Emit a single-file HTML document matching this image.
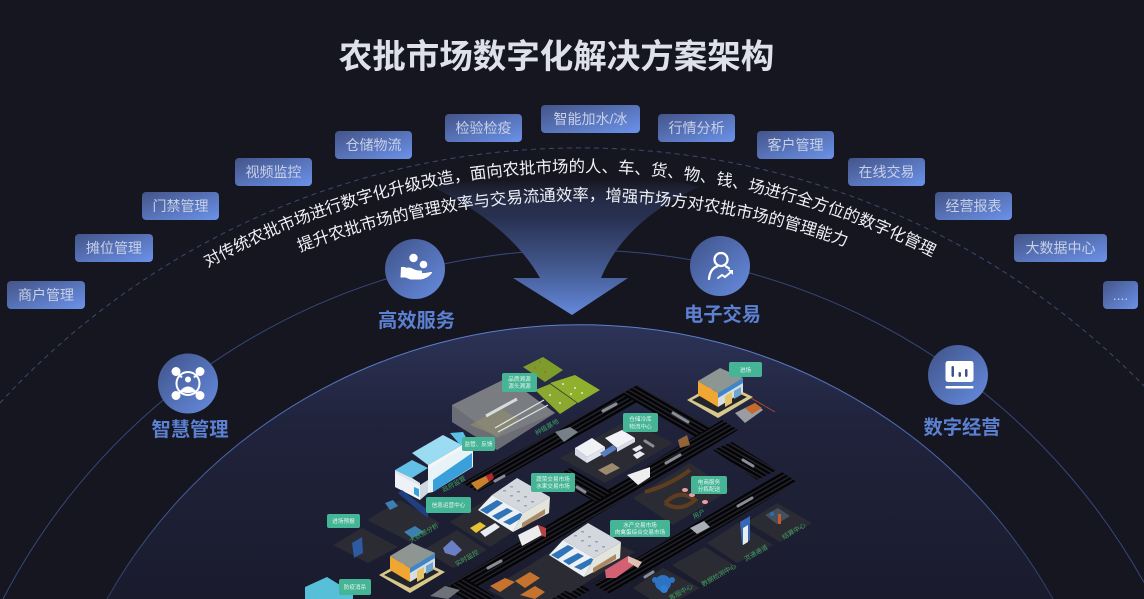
<!DOCTYPE html>
<html lang="zh">
<head>
<meta charset="utf-8">
<title>农批市场数字化解决方案架构</title>
<style>
html,body{margin:0;padding:0;background:#161620;width:1144px;height:599px;overflow:hidden}
svg{display:block}
text{font-family:"Liberation Sans","Noto Sans CJK SC",sans-serif}
.t{font-size:14px;fill:#c8d0e6;text-anchor:middle}
.f{font-size:19.300px;font-weight:700;fill:#5c80d2;text-anchor:middle}
.c{font-size:5.600px;fill:#e6f5ef;text-anchor:middle}
.g{font-size:6.500px;fill:#3f9f63;text-anchor:middle}
.arc{font-size:16.400px;fill:#eef0f6}
</style>
</head>
<body>
<svg width="1144" height="599" viewBox="0 0 1144 599" xmlns="http://www.w3.org/2000/svg">
<defs>
<linearGradient id="lb" x1="0" y1="0" x2="1" y2="1"><stop offset="0" stop-color="#445488"/><stop offset="1" stop-color="#6b92ea"/></linearGradient>
<linearGradient id="cb" x1="0" y1="0" x2="1" y2="1"><stop offset="0" stop-color="#3f5288"/><stop offset="1" stop-color="#668ce0"/></linearGradient>
<linearGradient id="ar" x1="0" y1="180" x2="0" y2="315" gradientUnits="userSpaceOnUse"><stop offset="0" stop-color="#3a4a7a" stop-opacity="0"/><stop offset=".27" stop-color="#283050"/><stop offset=".65" stop-color="#43598f"/><stop offset="1" stop-color="#6489dc"/></linearGradient>
<linearGradient id="dome" x1="0" y1="324" x2="0" y2="599" gradientUnits="userSpaceOnUse"><stop offset="0" stop-color="#2d3458"/><stop offset=".35" stop-color="#20233c"/><stop offset="1" stop-color="#1a1b2d"/></linearGradient>
<linearGradient id="edge" x1="0" y1="324" x2="0" y2="599" gradientUnits="userSpaceOnUse"><stop offset="0" stop-color="#5d80d0"/><stop offset=".5" stop-color="#4664aa"/><stop offset="1" stop-color="#2e3c66"/></linearGradient>
<pattern id="sa" width="6" height="4" patternUnits="userSpaceOnUse" patternTransform="rotate(30)"><rect width="6" height="2.800" fill="#050507"/><rect y="2.800" width="6" height="1.200" fill="#26262f"/></pattern>
<pattern id="sb" width="6" height="4" patternUnits="userSpaceOnUse" patternTransform="rotate(-30)"><rect width="6" height="2.800" fill="#050507"/><rect y="2.800" width="6" height="1.200" fill="#26262f"/></pattern>
<path id="p1" d="M80 355.500 A773 773 0 0 1 1080 355.500"/>
<path id="p2" d="M130 341.200 A790 790 0 0 1 1030 341.200"/>
<g id="store">
<polygon points="687,400 720,381 753,397 718,418" fill="#d7c98c"/>
<polygon points="692,400 720,385 747,397 718,413" fill="#24242b"/>
<polygon points="698,381 718,393 718,407 698,395" fill="#f0a632"/>
<polygon points="718,393 743,378 743,392 718,407" fill="#d7dde2"/>
<polygon points="718,393 743,378 743,383 718,398" fill="#3f86c8"/>
<polygon points="698,381 720,368 743,378 718,393" fill="#8d9692"/>
<polygon points="725,396 732,392 732,403 725,407" fill="#e3c467"/>
<polygon points="734,391 741,387 741,395 734,399" fill="#6ea5d0"/>
</g>
<g id="market">
<polygon points="478,510 492,495 523,513 513,532" fill="#eef1f4"/>
<polygon points="480,510 497,500 503,503 487,514" fill="#2f73b8"/>
<polygon points="492,516 507,508 513,511 498,520" fill="#2f73b8"/>
<polygon points="503,522 520,513 525,516 510,525" fill="#2f73b8"/>
<polygon points="513,532 549,513 550,497 523,513" fill="#e3e4dc"/>
<polygon points="522,523 545,509 545,514 522,528" fill="#a98862"/>
<polygon points="492,495 517,478 550,497 523,513" fill="#d4d8de"/>
<g fill="#9da3ac"><rect x="503" y="490" width="3" height="1.500"/><rect x="510" y="486" width="3" height="1.500"/><rect x="510" y="495" width="3" height="1.500"/><rect x="517" y="491" width="3" height="1.500"/><rect x="517" y="500" width="3" height="1.500"/><rect x="524" y="496" width="3" height="1.500"/><rect x="524" y="505" width="3" height="1.500"/><rect x="531" y="501" width="3" height="1.500"/></g>
</g>
</defs>

<rect width="1144" height="599" fill="#161620"/>

<path d="M0 403 A787 787 0 0 1 1144 386" fill="none" stroke="#3a4a72" stroke-width="1" stroke-dasharray="5 4"/>
<path d="M3 599 A648 648 0 0 1 1144 582.500" fill="none" stroke="#37477a" stroke-width="1"/>

<path d="M433 187 Q510 225 540 278 L513 278 L572 315 L628 278 L601 278 Q625 220 699 187 Q570 150 433 187Z" fill="url(#ar)"/>

<path d="M107 599 A540 530 0 0 1 1053 599Z" fill="url(#dome)"/>
<path d="M107 599 A540 530 0 0 1 1053 599" fill="none" stroke="url(#edge)" stroke-width="1"/>

<text x="556.500" y="68" text-anchor="middle" style="font-size:33.500px;font-weight:700;fill:#dfe1ea">农批市场数字化解决方案架构</text>

<g>
<rect x="7" y="281" width="78" height="28" rx="4" fill="url(#lb)"/><text class="t" x="46" y="300">商户管理</text>
<rect x="75" y="234" width="78" height="28" rx="4" fill="url(#lb)"/><text class="t" x="114" y="253">摊位管理</text>
<rect x="142" y="192" width="77" height="28" rx="4" fill="url(#lb)"/><text class="t" x="180.500" y="211">门禁管理</text>
<rect x="235" y="158" width="77" height="28" rx="4" fill="url(#lb)"/><text class="t" x="273.500" y="177">视频监控</text>
<rect x="335" y="131" width="77" height="28" rx="4" fill="url(#lb)"/><text class="t" x="373.500" y="150">仓储物流</text>
<rect x="445" y="114" width="77" height="28" rx="4" fill="url(#lb)"/><text class="t" x="483.500" y="133">检验检疫</text>
<rect x="541" y="105" width="99" height="28" rx="4" fill="url(#lb)"/><text class="t" x="590.500" y="124">智能加水/冰</text>
<rect x="658" y="114" width="77" height="28" rx="4" fill="url(#lb)"/><text class="t" x="696.500" y="133">行情分析</text>
<rect x="757" y="131" width="77" height="28" rx="4" fill="url(#lb)"/><text class="t" x="795.500" y="150">客户管理</text>
<rect x="848" y="158" width="77" height="28" rx="4" fill="url(#lb)"/><text class="t" x="886.500" y="177">在线交易</text>
<rect x="935" y="192" width="77" height="28" rx="4" fill="url(#lb)"/><text class="t" x="973.500" y="211">经营报表</text>
<rect x="1014" y="234" width="93" height="28" rx="4" fill="url(#lb)"/><text class="t" x="1060.500" y="253">大数据中心</text>
<rect x="1103" y="281" width="35" height="28" rx="4" fill="url(#lb)"/><text class="t" x="1120.500" y="300">....</text>
</g>

<text class="arc" text-anchor="middle"><textPath href="#p1" startOffset="48.950%">对传统农批市场进行数字化升级改造，面向农批市场的人、车、货、物、钱、场进行全方位的数字化管理</textPath></text>
<text class="arc" text-anchor="middle"><textPath href="#p2" startOffset="49.200%">提升农批市场的管理效率与交易流通效率，增强市场方对农批市场的管理能力</textPath></text>

<circle cx="415" cy="269" r="30" fill="url(#cb)"/>
<g fill="#fff">
<circle cx="413.500" cy="258" r="4.200"/><circle cx="423.500" cy="264.500" r="3.800"/>
<path d="M401 267h4.500v1q4-1.500 8 1q3 1.500 5 1.500h2q2 0 1.500 2.500h3l6-1q2 0 .5 1.500q-4 5-11 6h-10l-5-2h-5z"/>
</g>
<circle cx="720" cy="266" r="30" fill="url(#cb)"/>
<g fill="none" stroke="#fff" stroke-linecap="round">
<circle cx="721" cy="259.500" r="6.500" stroke-width="2.300"/>
<path d="M709 279q1-10 8-12.500M726 266.500q2 1 3 2" stroke-width="2.300"/>
<path d="M718 278l4-3 3 2 6-5" stroke-width="2"/>
</g>
<path d="M728 270h5v5z" fill="#fff"/>
<circle cx="188" cy="383.500" r="30" fill="url(#cb)"/>
<g fill="#fff" stroke="#fff">
<circle cx="188" cy="383.500" r="11.500" fill="none" stroke-width="2"/>
<circle cx="176" cy="371.500" r="4"/><circle cx="200" cy="371.500" r="4"/><circle cx="176" cy="395.500" r="4"/><circle cx="200" cy="395.500" r="4"/>
<path d="M176 371.500l6 6M200 371.500l-6 6M176 395.500l7-5M200 395.500l-7-5" stroke-width="2"/>
<circle cx="188" cy="379.500" r="3" stroke="none"/><path d="M180 391q8-9 16 0q-8 4-16 0z" stroke="none"/>
</g>
<circle cx="958" cy="375" r="30" fill="url(#cb)"/>
<rect x="945.500" y="361" width="28" height="21" rx="2.500" fill="#fff"/>
<rect x="945.500" y="386" width="28" height="2.500" rx="1" fill="#fff"/>
<g fill="#3d5190"><rect x="951.500" y="366" width="2.500" height="11" rx="1.200"/><rect x="958.500" y="372" width="2.500" height="5" rx="1.200"/><rect x="965" y="369" width="2.500" height="8" rx="1.200"/></g>

<text class="f" x="416.500" y="327">高效服务</text>
<text class="f" x="722.500" y="321">电子交易</text>
<text class="f" x="190" y="436">智慧管理</text>
<text class="f" x="962" y="434">数字经营</text>

<!-- roads -->
<g>
<polygon points="637,385 652,394 478,492 462,483" fill="url(#sb)"/>
<polygon points="637,385 712,428 695,437 622,394" fill="url(#sa)"/>
<polygon points="722,420 738,430 462,597 445,587" fill="url(#sb)"/>
<polygon points="782,472 797,482 610,594 593,584" fill="url(#sb)"/>
<polygon points="732,442 777,470 757,480 713,450" fill="url(#sa)"/>
<polygon points="553,478 570,468 612,492 595,502" fill="url(#sa)"/>
<polygon points="540,584 560,572 590,590 575,599 552,599" fill="url(#sa)"/>
<polygon points="447,588 465,578 495,597 490,599 462,599" fill="url(#sa)"/>
</g>
<!-- platforms -->
<g fill="#2b2b33">
<polygon points="560,458 628,420 673,443 605,483"/>
<polygon points="633,498 690,463 730,490 673,525"/>
<polygon points="747,522 777,503 812,523 780,542"/>
<polygon points="707,543 738,523 773,545 737,563"/>
<polygon points="672,565 705,547 737,567 703,585"/>
<polygon points="633,588 663,568 700,588 680,599 650,599"/>
<polygon points="333,545 362,528 398,547 368,563"/>
<polygon points="367,520 400,500 440,523 410,542"/>
<polygon points="423,550 457,530 487,550 453,568"/>
<polygon points="450,522 513,483 550,507 490,547"/>
<polygon points="522,570 585,530 635,552 570,593"/>
<polygon points="488,590 535,562 575,585 552,599 505,599"/>
</g>
<!-- road arrows -->
<g stroke="#8a8d96" stroke-width="3" fill="none" stroke-linecap="round">
<path d="M603 411l13-7M673 413l15 9M666 463l14-8M753 466l-10-6M738 506l14-8M645 441l8 5M488 568l13-7M495 481l9-5M585 492l-8-5M645 577l8-5"/>
</g>
<!-- fields -->
<polygon points="523,367 543,357 563,370 545,382" fill="#7e9c2c"/>
<polygon points="550,383 575,375 600,390 578,403" fill="#8fb02c"/>
<polygon points="535,390 550,384 577,403 560,414" fill="#8aa92e"/>
<g fill="#e9e6dd"><circle cx="563" cy="384" r="1"/><circle cx="575" cy="388" r="1"/><circle cx="582" cy="393" r="1"/><circle cx="571" cy="394" r="1"/><circle cx="550" cy="395" r="1"/><circle cx="560" cy="403" r="1"/></g>
<g fill="#b5603a"><circle cx="535" cy="368" r="1"/><circle cx="545" cy="372" r="1"/><circle cx="540" cy="362" r="1"/></g>
<!-- greenhouse -->
<polygon points="452,405 507,378 555,413 497,450 452,422" fill="#85878a" opacity=".75"/>
<polygon points="452,405 507,378 555,413 497,438" fill="#7d7f83" opacity=".8"/>
<polygon points="470,425 500,408 520,420 497,436" fill="#8e8a72" opacity=".75"/>
<path d="M486 416l31-17" stroke="#d8dadb" stroke-width="3"/>
<path d="M495 428l49-28M498 432l50-27" stroke="#e3e4e0" stroke-width="1.200"/>
<!-- monitoring building -->
<polygon points="428,466 462,447 473,450 473,467 433,492 428,493" fill="#e8f3f8"/>
<polygon points="433,480 472,453 472,467 433,492" fill="#3aa0dc"/>
<polygon points="395,472 420,485 420,500 395,487" fill="#eef2f6"/>
<polygon points="420,485 428,480 428,493 420,500" fill="#cfd9e2"/>
<polygon points="414,487 419,489 419,497 414,494" fill="#3aa0dc"/>
<polygon points="395,470 412,460 428,468 412,478" fill="#62bfe6"/>
<polygon points="395,470 412,478 420,483 420,486 395,473" fill="#dbe7ee"/>
<polygon points="412,453 443,435 462,445 428,465" fill="#9bdcf2"/>
<polygon points="450,433 463,432 473,450 462,447" fill="#5cc0e6"/>
<polygon points="428,465 462,445 462,449 428,469" fill="#f2f6f9"/>
<!-- stores -->
<use href="#store"/>
<use href="#store" x="-308" y="175"/>
<path d="M751 398l24 14" stroke="#a4492c" stroke-width="1"/>
<!-- markets -->
<use href="#market"/>
<use href="#market" x="71" y="45"/>
<!-- warehouse -->
<polygon points="575,448 592,438 605,447 587,457" fill="#f0f2f6"/>
<polygon points="575,448 587,457 587,463 575,455" fill="#d4d8e4"/>
<polygon points="587,457 605,447 605,453 587,463" fill="#dfe3ea"/>
<polygon points="605,438 622,430 635,438 617,448" fill="#f3f3f7"/>
<polygon points="617,448 635,438 635,442 617,452" fill="#d7dbe3"/>
<polygon points="600,453 613,445 617,449 604,457" fill="#5a7dc0"/>
<polygon points="632,449 640,445 643,448 636,452" fill="#e8ebf0"/>
<polygon points="633,455 640,451 645,454 637,459" fill="#e8ebf0"/>
<polygon points="598,470 612,463 620,468 606,475" fill="#9b8a6c"/>
<polygon points="627,475 650,467 650,477 638,485" fill="#eeeeee"/>
<!-- e-commerce -->
<path d="M645 492q25-7 45-22M665 503q15 10 30-3q-15-12-30 3" stroke="#5f3e20" stroke-width="4" fill="none"/>
<g fill="#e8a0a6"><ellipse cx="685" cy="490" rx="3" ry="2"/><ellipse cx="692" cy="495" rx="3" ry="2"/><ellipse cx="705" cy="502" rx="3" ry="2"/><ellipse cx="706" cy="490" rx="3" ry="2"/></g>
<!-- vehicles -->
<polygon points="471,483 488,475 493,479 477,490" fill="#c9812e"/>
<polygon points="486,476 492,473 494,478 489,482" fill="#b5262c"/>
<polygon points="470,528 480,522 486,526 476,533" fill="#e8c235"/>
<polygon points="480,532 495,523 500,527 485,537" fill="#e8ebef"/>
<polygon points="518,535 538,525 542,535 522,546" fill="#ececec"/>
<polygon points="538,525 546,528 546,537 542,536" fill="#b44444"/>
<polygon points="605,570 628,556 638,562 616,578 606,578" fill="#d46073"/>
<polygon points="628,556 642,562 638,568 628,562" fill="#dfc0b0"/>
<polygon points="690,528 704,521 710,527 697,534" fill="#aaaeb5"/>
<polygon points="735,413 755,403 763,410 745,423" fill="#9a9ca2"/>
<polygon points="745,408 755,403 762,408 752,414" fill="#c46b2a"/>
<polygon points="555,432 570,427 578,432 564,442" fill="#777f88"/>
<polygon points="430,596 445,586 460,590 448,599" fill="#6e7278"/>
<polygon points="490,586 505,578 515,582 500,592" fill="#c77330"/>
<polygon points="515,581 530,572 540,578 525,588" fill="#c77330"/>
<polygon points="520,595 535,586 545,592 535,599" fill="#c77330"/>
<!-- small objects -->
<polygon points="352,543 362,537 363,553 354,558" fill="#2d5aa0"/>
<polygon points="398,493 420,512 428,518 428,510 402,490" fill="#1f3f80"/>
<polygon points="385,503 393,500 398,506 390,510" fill="#3c7fb0"/>
<polygon points="404,532 415,526 424,532 412,538" fill="#3c7fb0"/>
<polygon points="443,548 452,540 462,550 455,556 445,553" fill="#6b7fc5"/>
<polygon points="740,522 750,516 750,540 742,545" fill="#3568b5"/>
<polygon points="743,528 748,525 748,542 743,545" fill="#e9edf0"/>
<circle cx="663" cy="583" r="8" fill="#2c73c4"/><circle cx="655" cy="580" r="3" fill="#2c73c4"/><circle cx="672" cy="580" r="3" fill="#2c73c4"/><circle cx="664" cy="589" r="4" fill="#2f7fd0"/>
<polygon points="765,515 778,508 790,516 777,524" fill="#45505e"/>
<circle cx="772" cy="514" r="2" fill="#2a6fb5"/><rect x="778" y="514" width="3" height="10" fill="#c85b25"/>
<polygon points="678,440 687,435 690,445 680,448" fill="#b0773c" opacity=".8"/>
<!-- SW cyan building -->
<polygon points="305,587 327,577 353,593 353,599 305,599" fill="#58bfd8"/>
<!-- callouts -->
<g fill="#46b596">
<rect x="502" y="373" width="35" height="19" rx="2"/>
<rect x="462" y="437" width="33" height="14" rx="2"/>
<rect x="531" y="473" width="44" height="19" rx="2"/>
<rect x="426" y="497" width="45" height="16" rx="2"/>
<rect x="327" y="514" width="33" height="14" rx="2"/>
<rect x="339" y="579" width="32" height="16" rx="2"/>
<rect x="729" y="362" width="33" height="15" rx="2"/>
<rect x="623" y="413" width="35" height="19" rx="2"/>
<rect x="691" y="476" width="36" height="18" rx="2"/>
<rect x="610" y="520" width="60" height="17" rx="2"/>
</g>
<text class="c" x="519.500" y="381">品质溯源</text><text class="c" x="519.500" y="388">源头溯源</text>
<text class="c" x="478.500" y="446">监管、反馈</text>
<text class="c" x="553" y="481">蔬菜交易市场</text><text class="c" x="553" y="488">水果交易市场</text>
<text class="c" x="448.500" y="507">信息运营中心</text>
<text class="c" x="343.500" y="523">进场预报</text>
<text class="c" x="355" y="589">防疫消杀</text>
<text class="c" x="745.500" y="372">进场</text>
<text class="c" x="640.500" y="421">仓储冷库</text><text class="c" x="640.500" y="428.500">物流中心</text>
<text class="c" x="709" y="484">电商服务</text><text class="c" x="709" y="491">分拣配送</text>
<text class="c" x="640" y="527">水产交易市场</text><text class="c" x="640" y="534">肉禽蛋综合交易市场</text>
<!-- panel labels -->
<text class="g" transform="translate(548,429) rotate(-30)">种植基地</text>
<text class="g" transform="translate(455,486) rotate(-30)">政府监管</text>
<text class="g" transform="translate(425,535) rotate(-30)">大数据分析</text>
<text class="g" transform="translate(468,560) rotate(-30)">实时监控</text>
<text class="g" transform="translate(700,516) rotate(-30)">用户</text>
<text class="g" transform="translate(720,577) rotate(-30)">数据检测中心</text>
<text class="g" transform="translate(757,555) rotate(-30)">流通通道</text>
<text class="g" transform="translate(795,533) rotate(-30)">结算中心</text>
<text class="g" transform="translate(682,594) rotate(-30)">客服中心</text>
</svg>
</body>
</html>
